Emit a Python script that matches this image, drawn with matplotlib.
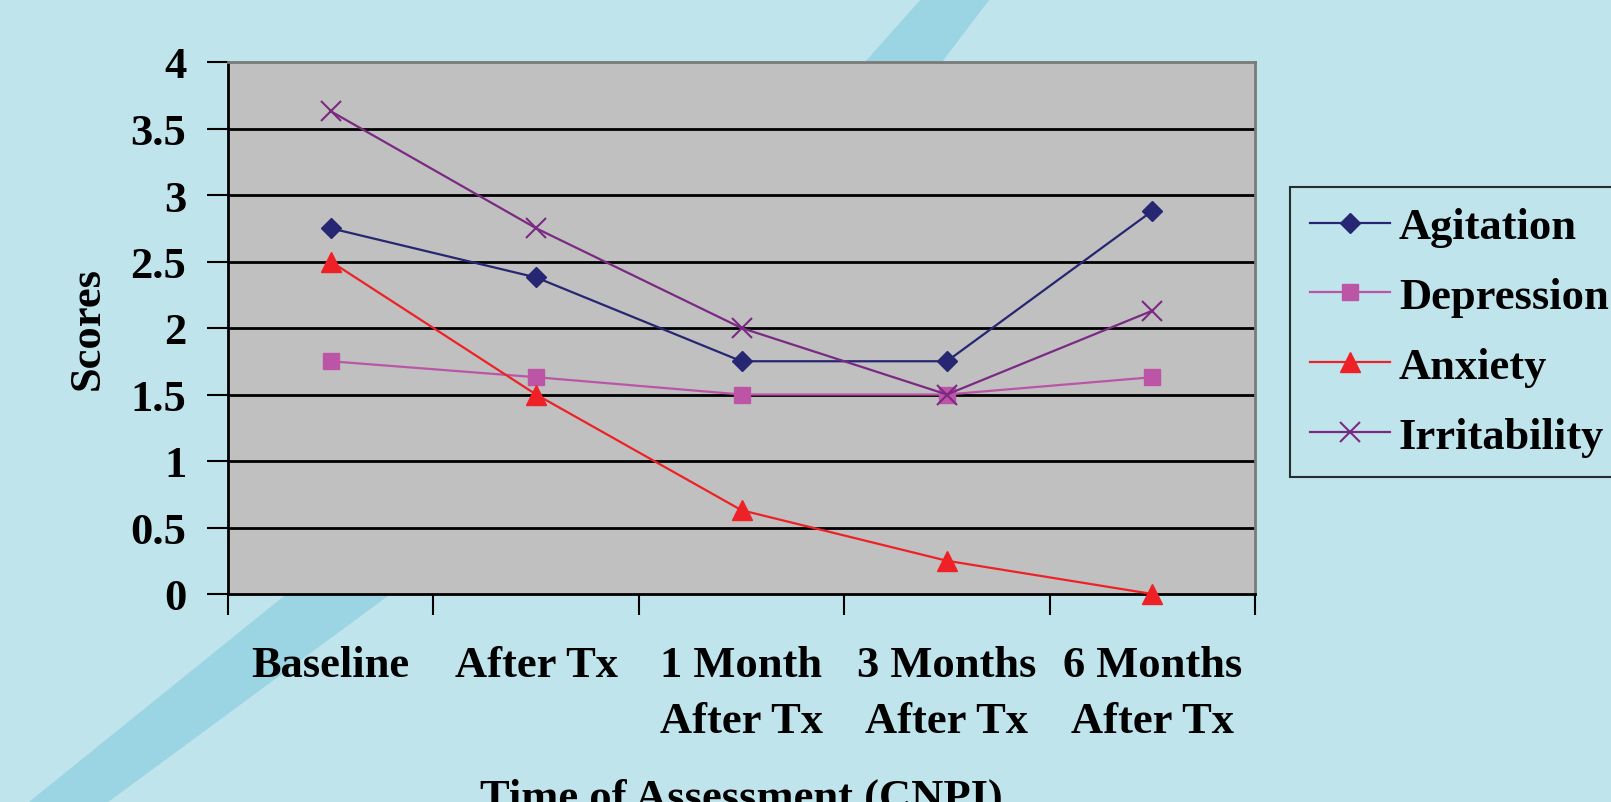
import matplotlib.pyplot as plt
from matplotlib.patches import Polygon

# data
categories = ['Baseline', 'After Tx', '1 Month\nAfter Tx', '3 Months\nAfter Tx', '6 Months\nAfter Tx']
agitation = [2.75, 2.38, 1.75, 1.75, 2.88]
depression = [1.75, 1.63, 1.5, 1.5, 1.63]
anxiety = [2.5, 1.5, 0.63, 0.25, 0.0]
irritability = [3.63, 2.75, 2.0, 1.5, 2.13]

W, H = 1611, 803
plt.rcParams['font.family'] = ['Liberation Serif', 'DejaVu Serif']
plt.rcParams['font.weight'] = 'bold'

fig = plt.figure(figsize=(W/100, H/100), dpi=100)
fig.patch.set_facecolor('#BFE4EC')

# background stripes (in pixel coords)
def px(pts):
    return [(x/W, 1-y/H) for x, y in pts]

fig.add_artist(Polygon(px([(30, 803), (107, 803), (437, 560), (331, 560)]),
                       closed=True, transform=fig.transFigure, color='#9BD5E3', zorder=0))
fig.add_artist(Polygon(px([(922, 0), (989, 0), (913, 100), (833, 100)]),
                       closed=True, transform=fig.transFigure, color='#9BD5E3', zorder=0))

ax = fig.add_axes([228/W, 1-595/H, (1255-228)/W, (595-63)/H])
ax.set_zorder(2)
ax.set_facecolor('#C0C0C0')

x = range(len(categories))
ax.plot(x, agitation, color='#262673', lw=1.6, marker='D', ms=10.5, label='Agitation', clip_on=False, zorder=5)
ax.plot(x, depression, color='#BC55A6', lw=1.6, marker='s', ms=11, label='Depression', clip_on=False, zorder=4)
ax.plot(x, anxiety, color='#EE2226', lw=1.6, marker='^', ms=14, label='Anxiety', clip_on=False, zorder=5)
ax.plot(x, irritability, color='#7B2A83', lw=1.6, marker='x', ms=14, mew=1.5, label='Irritability', clip_on=False, zorder=6)

ax.set_xlim(-0.5, 4.5)
ax.set_ylim(0, 4)

yt = [0, 0.5, 1, 1.5, 2, 2.5, 3, 3.5, 4]
ax.set_yticks(yt)
ax.set_yticklabels(['0', '0.5', '1', '1.5', '2', '2.5', '3', '3.5', '4'])
for v in yt[1:-1]:
    ax.axhline(v, color='black', lw=2, zorder=1)

ax.set_xticks([i - 0.5 for i in range(6)])
ax.set_xticklabels([])
ax.set_xticks(list(x), minor=True)
ax.set_xticklabels(categories, minor=True, linespacing=1.5)
ax.tick_params(axis='x', which='major', direction='out', length=15, width=1.5, color='black')
ax.tick_params(axis='x', which='minor', length=0, pad=37, labelsize=32)
ax.tick_params(axis='y', direction='out', length=15, width=1.5, pad=15, labelsize=32)

for s in ['left', 'bottom']:
    ax.spines[s].set_color('black')
    ax.spines[s].set_linewidth(2)
for s in ['top', 'right']:
    ax.spines[s].set_color('#7A7A7A')
    ax.spines[s].set_linewidth(2)

ax.set_ylabel('Scores', fontsize=32, fontweight='bold')
ax.yaxis.set_label_coords(-0.137, 0.5)
ax.yaxis.label.set_va('center')
ax.set_xlabel('Time of Assessment (CNPI)', fontsize=32, fontweight='bold')
ax.xaxis.set_label_coords(0.5, -0.345)
ax.xaxis.label.set_va('top')

leg = fig.legend(loc='upper left', bbox_to_anchor=(1290/W, 1-188/H), fontsize=32,
                 frameon=True, fancybox=False, shadow=False, handlelength=1.8,
                 handletextpad=0.2, labelspacing=0.67, borderpad=0.45, borderaxespad=0)
leg.get_frame().set_edgecolor('black')
leg.get_frame().set_facecolor('#BFE4EC')
leg.get_frame().set_linewidth(1.5)

fig.savefig('out.png', dpi=100, facecolor=fig.get_facecolor())
